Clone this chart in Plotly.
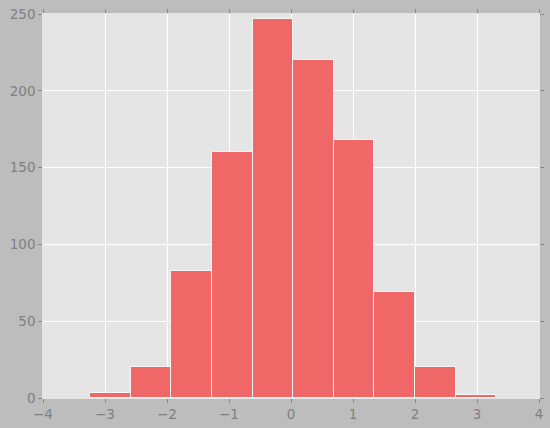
import plotly.graph_objects as go

bin_edges = [-3.24, -2.585, -1.93, -1.275, -0.62, 0.035, 0.69, 1.345, 2.0, 2.655, 3.31]
counts = [3, 20, 83, 160, 247, 220, 168, 69, 20, 2]
x_ticks = [-4, -3, -2, -1, 0, 1, 2, 3, 4]
y_ticks = [0, 50, 100, 150, 200, 250]

centers = [(a + b) / 2 for a, b in zip(bin_edges[:-1], bin_edges[1:])]
widths = [b - a for a, b in zip(bin_edges[:-1], bin_edges[1:])]

fig = go.Figure(go.Bar(
    x=centers, y=counts, width=widths,
    marker=dict(color="#EF6767", line=dict(color="#f5f5f5", width=1)),
))

tickfont = dict(family="DejaVu Sans", size=13.5, color="#808080")
fig.update_layout(
    width=550, height=428,
    margin=dict(l=43, r=11, t=14, b=30, autoexpand=False),
    paper_bgcolor="#bdbdbd", plot_bgcolor="#e5e5e5",
    showlegend=False, bargap=0,
    xaxis=dict(range=[-4, 4], tickvals=x_ticks, showgrid=True, gridcolor="white", gridwidth=1,
               zeroline=False, ticks="outside", ticklen=4, tickcolor="#888888",
               showline=True, linecolor="#e5e5e5", linewidth=0.5, mirror="ticks",
               tickfont=tickfont, automargin=False),
    yaxis=dict(range=[0, 250], tickvals=y_ticks, showgrid=True, gridcolor="white", gridwidth=1,
               zeroline=False, ticks="outside", ticklen=4, tickcolor="#888888",
               showline=True, linecolor="#e5e5e5", linewidth=0.5, mirror="ticks",
               tickfont=tickfont, automargin=False),
)
fig.write_html("out.html", config={"displayModeBar": False},
               post_script="document.body.style.margin='0';document.body.style.background='#bdbdbd';")
